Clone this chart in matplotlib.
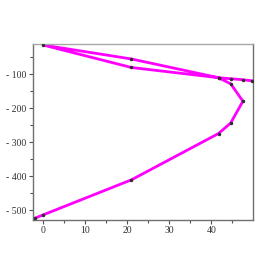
import matplotlib
matplotlib.use("Agg")
import matplotlib.pyplot as plt
from matplotlib.ticker import MultipleLocator

xs = [-2.0, 0.0, 21.0, 41.7, 44.6, 47.5, 44.6, 41.7, 21.0, 0.0, 21.0, 41.7, 44.6, 47.5, 49.6]
ys = [-523, -513, -410, -274, -243, -179, -128, -110, -80, -14, -55, -110, -113, -116, -119]
xticks = [0, 10, 20, 30, 40]
yticks = [-100, -200, -300, -400, -500]

fig = plt.figure(figsize=(2.73, 2.73), dpi=100)
ax = fig.add_axes([33/273, 1 - 220/273, 220/273, 176/273])
ax.plot(xs, ys, color="#ff00ff", lw=2.0, zorder=2)
ax.plot(xs, ys, ls="none", marker="o", ms=1.5, color="#303030", zorder=3)
ax.set_xlim(-2.4, 49.9)
ax.set_ylim(-528, -11)
ax.set_xticks(xticks)
ax.set_yticks(yticks)
ax.set_xticklabels([str(v) for v in xticks])
ax.set_yticklabels(["- " + str(-v) for v in yticks])
ax.xaxis.set_minor_locator(MultipleLocator(5))
ax.yaxis.set_minor_locator(MultipleLocator(50))
for lab in ax.get_xticklabels() + ax.get_yticklabels():
    lab.set_fontfamily("Liberation Serif")
    lab.set_fontsize(7)
    lab.set_color("#303030")
ax.tick_params(which="major", length=3, width=0.8, color="#505050", pad=1.5)
ax.tick_params(which="minor", length=2, width=0.8, color="#505050")
ax.tick_params(top=False, right=False)
for s in ["left", "bottom", "right"]:
    ax.spines[s].set_color("#707070")
    ax.spines[s].set_linewidth(1.0)
ax.spines["top"].set_color("#a8a8a8")
ax.spines["top"].set_linewidth(1.0)
fig.savefig("out.png", dpi=100)
